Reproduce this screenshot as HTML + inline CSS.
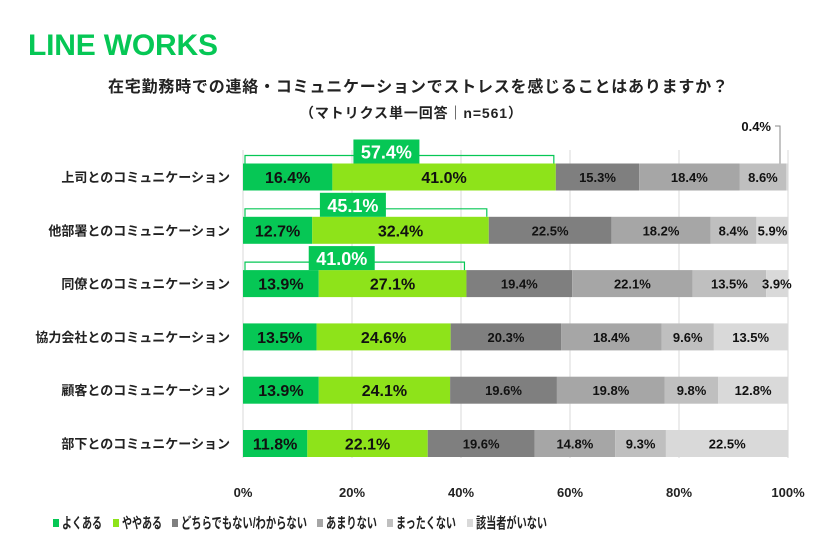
<!DOCTYPE html>
<html><head><meta charset="utf-8"><style>
body{margin:0;background:#fff;font-family:"Liberation Sans","Noto Sans CJK JP",sans-serif}
svg text{font-family:"Liberation Sans","Noto Sans CJK JP",sans-serif}
</style></head><body>
<svg id="c" width="824" height="547" xmlns="http://www.w3.org/2000/svg">
<text x="28" y="55" font-size="30" font-weight="bold" fill="#06c755" textLength="190">LINE WORKS</text>
<text x="108" y="92" font-size="16" font-weight="bold" fill="#222" textLength="620">在宅勤務時での連絡・コミュニケーションでストレスを感じることはありますか？</text>
<text x="300" y="118" font-size="14" font-weight="bold" fill="#222" textLength="222">（マトリクス単一回答｜n=561）</text>
<g id="plot"></g>
</svg>
<script>
const categories=["上司とのコミュニケーション","他部署とのコミュニケーション","同僚とのコミュニケーション","協力会社とのコミュニケーション","顧客とのコミュニケーション","部下とのコミュニケーション"];
const seriesNames=["よくある","ややある","どちらでもない/わからない","あまりない","まったくない","該当者がいない"];
const s1=[16.4,12.7,13.9,13.5,13.9,11.8];
const s2=[41.0,32.4,27.1,24.6,24.1,22.1];
const s3=[15.3,22.5,19.4,20.3,19.6,19.6];
const s4=[18.4,18.2,22.1,18.4,19.8,14.8];
const s5=[8.6,8.4,13.5,9.6,9.8,9.3];
const s6=[0.4,5.9,3.9,13.5,12.8,22.5];
const bracketTotals=[57.4,45.1,41.0];
const ticks=[0,20,40,60,80,100];
const colors=["#06c755","#8ee31a","#7f7f7f","#a6a6a6","#bfbfbf","#d9d9d9"];
const NS="http://www.w3.org/2000/svg";
const g=document.getElementById('plot');
const X0=243,X1=788,xs=v=>X0+(X1-X0)*v/100;
const yc=i=>177+i*53.3, BH=27;
function el(t,a,txt){const e=document.createElementNS(NS,t);for(const k in a)e.setAttribute(k,a[k]);if(txt!==undefined)e.textContent=txt;g.appendChild(e);return e;}
ticks.forEach(t=>{
 const l=el('line',{x1:xs(t),x2:xs(t),y1:150,y2:458,stroke:'#d9d9d9','stroke-width':1});
 
 
 const tx=el('text',{x:xs(t),y:497,'font-size':13,'font-weight':'bold','text-anchor':'middle',fill:'#222'},t+'%');
 
 
});
const series=[s1,s2,s3,s4,s5,s6];
categories.forEach((c,i)=>{
 const y=yc(i);
 const lab=el('text',{x:230,y:y+5,'font-size':13,'font-weight':'bold','text-anchor':'end',fill:'#222'},c);
 
 
 let acc=0;
 series.forEach((s,k)=>{
  const v=s[i];
  const r=el('rect',{x:xs(acc),y:y-BH/2,width:xs(acc+v)-xs(acc),height:BH,fill:colors[k]});
  
  
  if(!(i===0&&k===5)){
   const big=k<2;
   const t=el('text',{x:(xs(acc)+xs(acc+v))/2,y:y+(big?6:5),'font-size':big?16:13,'font-weight':'bold','text-anchor':'middle',fill:'#111'},v.toFixed(1)+'%');
   
   
  }
  acc+=v;
 });
 if(i<bracketTotals.length){
  const xe=xs(s1[i]+s2[i]);
  const p=el('path',{d:`M${X0+2},${y-BH/2} v-8 h${xe-X0-4} v8`,fill:'none',stroke:'#06c755','stroke-width':1.2});
  
  
  const cx=(X0+xe)/2-13;
  const b=el('rect',{x:cx-33,y:y-BH/2-24,width:66,height:24,fill:'#06c755'});
  
  
  const bt=el('text',{x:cx,y:y-BH/2-5,'font-size':18,'font-weight':'bold','text-anchor':'middle',fill:'#fff'},bracketTotals[i].toFixed(1)+'%');
  
  
 }
});
const ca=el('path',{d:`M775,126 h5 v${yc(0)-BH/2-126}`,fill:'none',stroke:'#888','stroke-width':1});


const ct=el('text',{x:771,y:131,'font-size':13,'font-weight':'bold','text-anchor':'end',fill:'#111'},s6[0].toFixed(1)+'%');


const lx=[53,113,172,317,387,467];
const lw=[40,40,126,51,60,71];
seriesNames.forEach((n,k)=>{
 const r=el('rect',{x:lx[k],y:519,width:6,height:8,fill:colors[k]});
 
 
 const t=el('text',{x:lx[k]+9,y:528,'font-size':15,'font-weight':'bold',fill:'#222',textLength:lw[k],lengthAdjust:'spacingAndGlyphs'},n);
 
 
});
</script>
</body></html>
